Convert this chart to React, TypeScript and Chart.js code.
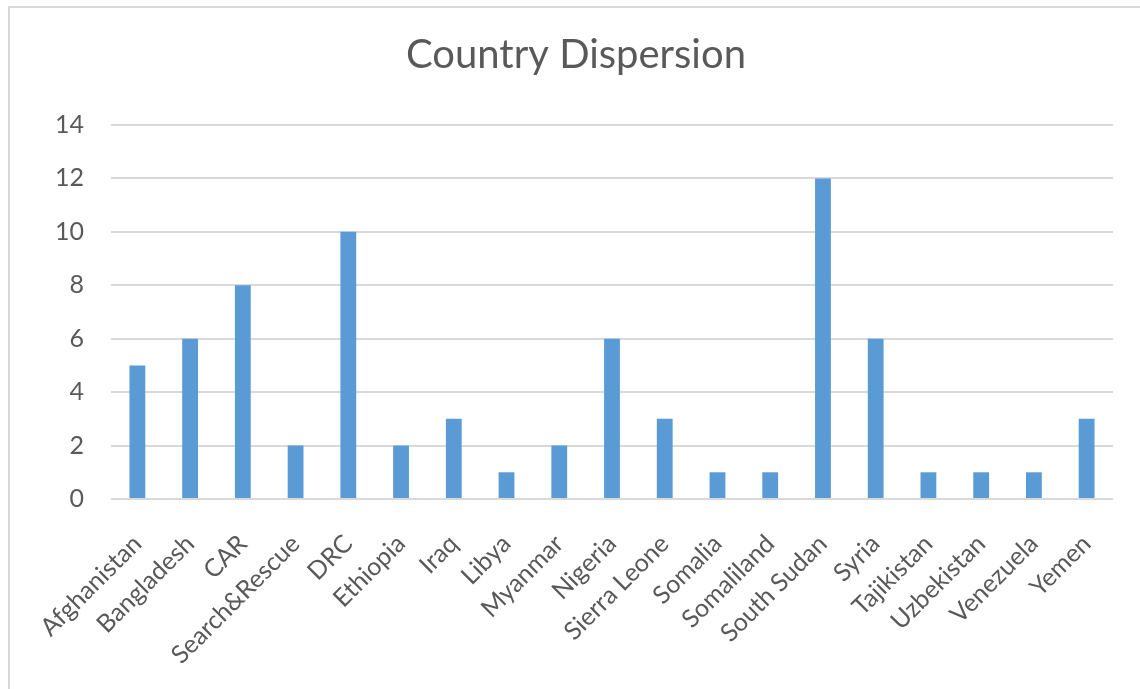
import React, { useEffect, useRef } from "react";
import { Chart, registerables } from "chart.js";

Chart.register(...registerables);

const categories = [
  "Afghanistan", "Bangladesh", "CAR", "Search&Rescue", "DRC", "Ethiopia", "Iraq", "Libya",
  "Myanmar", "Nigeria", "Sierra Leone", "Somalia", "Somaliland", "South Sudan", "Syria",
  "Tajikistan", "Uzbekistan", "Venezuela", "Yemen",
];
const values = [5, 6, 8, 2, 10, 2, 3, 1, 2, 6, 3, 1, 1, 12, 6, 1, 1, 1, 3];
const yTicks = [0, 2, 4, 6, 8, 10, 12, 14];
const title = "Country Dispersion";

const FONT = "Lato, 'Open Sans', sans-serif";
const TEXT = "#595959";

export default function App() {
  const ref = useRef<HTMLCanvasElement | null>(null);
  useEffect(() => {
    if (!ref.current) return;
    const chart = new Chart(ref.current, {
      type: "bar",
      data: {
        labels: categories,
        datasets: [
          {
            data: values,
            backgroundColor: "#5B9BD5",
            borderWidth: 0,
            barPercentage: 0.6,
            categoryPercentage: 0.5,
          },
        ],
      },
      options: {
        responsive: false,
        animation: false,
        layout: { padding: { left: 39, right: 27, top: 0, bottom: 0 } },
        plugins: {
          legend: { display: false },
          tooltip: { enabled: false },
          title: {
            display: true,
            text: title,
            color: TEXT,
            font: { family: FONT, size: 40, weight: "normal" },
            padding: { top: 31, bottom: 46 },
          },
        },
        scales: {
          x: {
            grid: { display: false, drawTicks: false },
            border: { display: false },
            ticks: {
              color: TEXT,
              font: { family: FONT, size: 25 },
              minRotation: 45,
              maxRotation: 45,
              autoSkip: false,
              padding: 30,
            },
            afterFit: (s: any) => {
              s.height = 190;
            },
          },
          y: {
            min: 0,
            max: 14,
            afterBuildTicks: (s: any) => {
              s.ticks = yTicks.map((v) => ({ value: v }));
            },
            grid: { color: "#d9d9d9", lineWidth: 2, drawTicks: false },
            border: { display: false },
            ticks: {
              color: TEXT,
              font: { family: FONT, size: 25 },
              padding: 27,
            },
            afterFit: (s: any) => {
              s.width = 72;
            },
          },
        },
      },
    });
    return () => chart.destroy();
  }, []);
  return (
    <div>
      <div
        style={{
          position: "fixed",
          left: 8,
          top: 6,
          width: 1300,
          height: 800,
          border: "2px solid #d9d9d9",
          boxSizing: "border-box",
          background: "#fff",
        }}
      />
      <canvas
        ref={ref}
        width={1140}
        height={689}
        style={{ position: "fixed", left: 0, top: 0, width: 1140, height: 689 }}
      />
    </div>
  );
}
